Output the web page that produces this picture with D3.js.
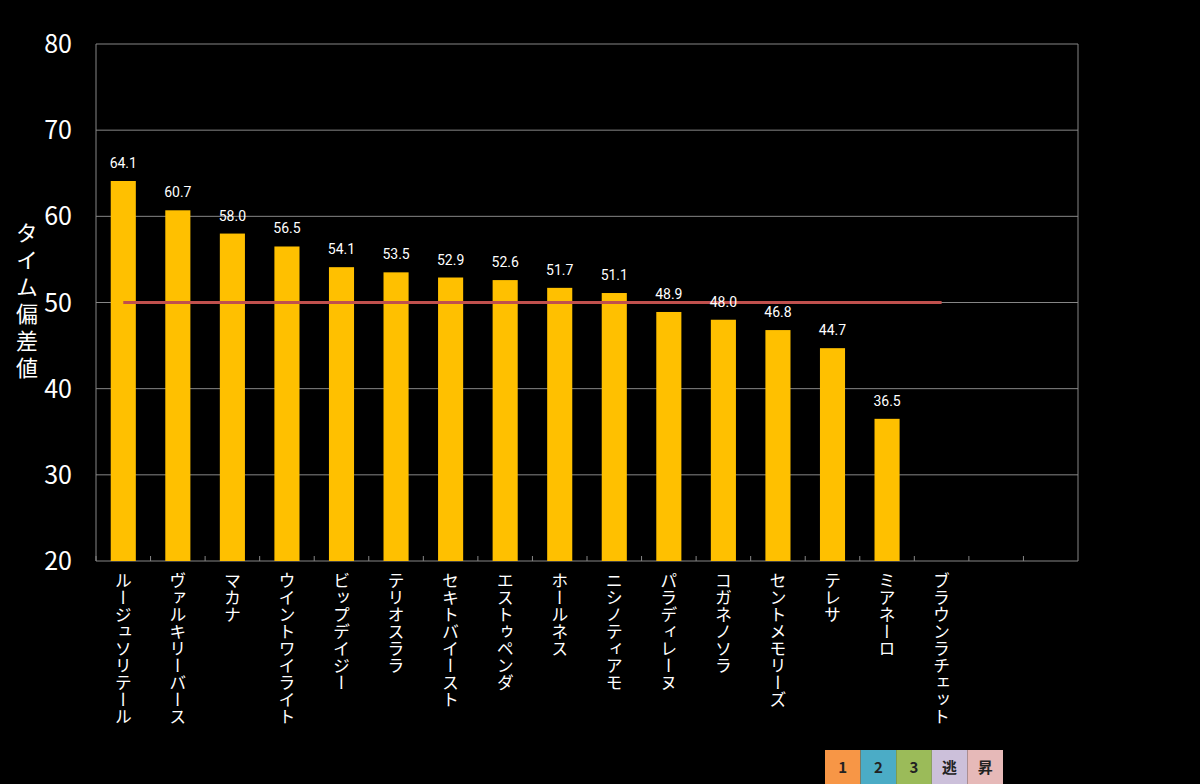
<!DOCTYPE html>
<html lang="ja">
<head>
<meta charset="UTF-8">
<title>タイム偏差値</title>
<script src="https://d3js.org/d3.v7.min.js"></script>
<style>
  body { margin: 0; padding: 0; background: #000; }
  svg { display: block; }
  text { font-family: "Noto Sans CJK JP", "Noto Sans", sans-serif; }
  .vlabel { writing-mode: vertical-rl; text-orientation: upright; }
</style>
</head>
<body>
<svg id="chart" width="1200" height="784"></svg>
<script>
  // horses (last two slots are empty)
  const categories = ["ルージュソリテール", "ヴァルキリーバース", "マカナ", "ウイントワイライト", "ビップデイジー",
    "テリオスララ", "セキトバイースト", "エストゥペンダ", "ホールネス", "ニシノティアモ", "パラディレーヌ",
    "コガネノソラ", "セントメモリーズ", "テレサ", "ミアネーロ", "ブラウンラチェット", "", ""];
  const scores = [64.1, 60.7, 58.0, 56.5, 54.1, 53.5, 52.9, 52.6, 51.7, 51.1, 48.9, 48.0, 46.8, 44.7, 36.5, null, null, null];
  const average = [50, 50, 50, 50, 50, 50, 50, 50, 50, 50, 50, 50, 50, 50, 50, 50, null, null];
  const yTicks = [20, 30, 40, 50, 60, 70, 80];
  const legendLabels = ["1", "2", "3", "逃", "昇"];
  const legendColors = ["#F79646", "#4BACC6", "#9BBB59", "#CCC0DA", "#E6B9B8"];

  const svg = d3.select("#chart");
  const plotLeft = 96, plotRight = 1078, plotTop = 44, plotBottom = 561;

  const x = d3.scaleBand()
    .domain(d3.range(categories.length))
    .range([plotLeft, plotRight]);

  const y = d3.scaleLinear()
    .domain([20, 80])
    .range([plotBottom, plotTop]);

  const grid = "#868686";

  // gridlines
  svg.append("g")
    .selectAll("line")
    .data(yTicks)
    .enter()
    .append("line")
    .attr("x1", plotLeft)
    .attr("x2", plotRight)
    .attr("y1", d => y(d))
    .attr("y2", d => y(d))
    .attr("stroke", grid)
    .attr("stroke-width", 1);

  // plot frame left/right
  svg.append("line").attr("x1", plotLeft).attr("x2", plotLeft).attr("y1", plotTop).attr("y2", plotBottom).attr("stroke", grid);
  svg.append("line").attr("x1", plotRight).attr("x2", plotRight).attr("y1", plotTop).attr("y2", plotBottom).attr("stroke", grid);

  // x ticks at band boundaries
  svg.append("g")
    .selectAll("line")
    .data(d3.range(categories.length))
    .enter()
    .append("line")
    .attr("x1", d => x(d))
    .attr("x2", d => x(d))
    .attr("y1", plotBottom - 5)
    .attr("y2", plotBottom)
    .attr("stroke", grid);

  // y tick labels
  svg.append("g")
    .selectAll("text")
    .data(yTicks)
    .enter()
    .append("text")
    .attr("x", 72)
    .attr("y", d => y(d))
    .attr("dy", "0.36em")
    .attr("text-anchor", "end")
    .attr("fill", "#fff")
    .attr("font-size", 25)
    .text(d => d);

  // y axis title
  svg.append("text")
    .attr("class", "vlabel")
    .attr("x", 27)
    .attr("y", 222)
    .attr("fill", "#fff")
    .attr("font-size", 22)
    .attr("letter-spacing", 5)
    .text("タイム偏差値");

  const barW = x.bandwidth() * 0.46;
  const valued = d3.range(categories.length).filter(i => scores[i] != null);

  // bars
  svg.append("g")
    .selectAll("rect")
    .data(valued)
    .enter()
    .append("rect")
    .attr("x", i => x(i) + (x.bandwidth() - barW) / 2)
    .attr("y", i => y(scores[i]))
    .attr("width", barW)
    .attr("height", i => plotBottom - y(scores[i]))
    .attr("fill", "#FFC000");

  // average line
  const avgIdx = d3.range(categories.length).filter(i => average[i] != null);
  svg.append("path")
    .datum(avgIdx)
    .attr("fill", "none")
    .attr("stroke", "#C0504D")
    .attr("stroke-width", 3)
    .attr("d", d3.line()
      .x(i => x(i) + x.bandwidth() / 2)
      .y(i => y(average[i])));

  // data labels (on top of the line)
  svg.append("g")
    .selectAll("text")
    .data(valued)
    .enter()
    .append("text")
    .attr("x", i => x(i) + x.bandwidth() / 2)
    .attr("y", i => y(scores[i]) - 13)
    .attr("text-anchor", "middle")
    .attr("fill", "#fff")
    .attr("font-size", 14)
    .style("font-family", "Roboto, sans-serif")
    .text(i => scores[i].toFixed(1));

  // category labels (vertical)
  svg.append("g")
    .selectAll("text")
    .data(d3.range(categories.length))
    .enter()
    .append("text")
    .attr("class", "vlabel")
    .attr("x", i => x(i) + x.bandwidth() / 2)
    .attr("y", 572)
    .attr("fill", "#fff")
    .attr("font-size", 17)
    .text(i => categories[i]);

  // legend
  const lx = d3.scaleBand().domain(legendLabels).range([825, 1003]);
  const leg = svg.append("g");
  leg.selectAll("rect")
    .data(legendLabels)
    .enter()
    .append("rect")
    .attr("x", d => lx(d))
    .attr("y", 750)
    .attr("width", lx.bandwidth())
    .attr("height", 34)
    .attr("fill", (d, i) => legendColors[i]);
  leg.selectAll("text")
    .data(legendLabels)
    .enter()
    .append("text")
    .attr("x", d => lx(d) + lx.bandwidth() / 2)
    .attr("y", 768)
    .attr("dy", "0.36em")
    .attr("text-anchor", "middle")
    .attr("fill", "#222")
    .attr("font-size", 15)
    .attr("font-weight", "bold")
    .text(d => d);
</script>
</body>
</html>
